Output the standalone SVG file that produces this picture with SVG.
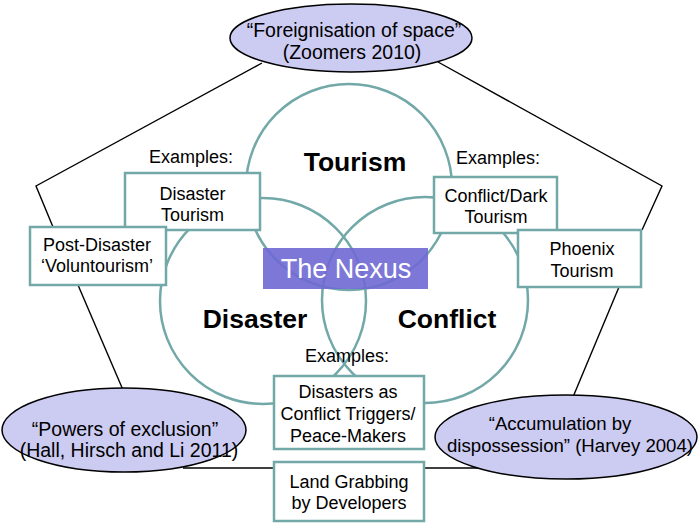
<svg xmlns="http://www.w3.org/2000/svg" width="699" height="524" viewBox="0 0 699 524">
<style>
.c{fill:none;stroke:#72a8a8;stroke-width:2.5}
.b{fill:#fff;stroke:#72a8a8;stroke-width:2.5}
.e{fill:#cccbf2;stroke:#000;stroke-width:1.5}
.ln{fill:none;stroke:#000;stroke-width:1.4}
text{font-family:"Liberation Sans",Arial,sans-serif;fill:#000;text-anchor:middle}
.t{font-size:18px}
.te{font-size:19.5px}
.ta{font-size:18.6px}
.big{font-size:26.5px;font-weight:bold}
.nx{font-size:27px;fill:#fff}
</style>
<rect width="699" height="524" fill="#fff"/>
<g id="connectors">
<polyline class="ln" points="262,63 36,186 53,227"/>
<line class="ln" x1="78" y1="285" x2="123" y2="390"/>
<line class="ln" x1="183" y1="468" x2="274" y2="468"/>
<line class="ln" x1="424" y1="468" x2="478" y2="468"/>
<line class="ln" x1="619" y1="287" x2="573" y2="397"/>
<polyline class="ln" points="642,230 662,186 438,62"/>
</g>
<g id="circles">
<circle id="tourism" class="c" cx="349" cy="187" r="103"/>
<circle id="disaster" class="c" cx="263" cy="301" r="103"/>
<circle id="conflict" class="c" cx="425" cy="300" r="103"/>
</g>
<g id="labels">
<text class="big" x="355" y="171">Tourism</text>
<text class="big" x="255" y="328">Disaster</text>
<text class="big" x="447" y="328">Conflict</text>
<text class="t" x="191" y="163">Examples:</text>
<text class="t" x="498" y="164">Examples:</text>
<text class="t" x="347" y="362">Examples:</text>
</g>
<g id="nexus">
<rect x="263" y="248" width="165" height="41" fill="#6f68d4" fill-opacity="0.9"/>
<text class="nx" x="346" y="278">The Nexus</text>
</g>
<g id="disaster-tourism">
<rect class="b" x="125" y="173" width="135" height="57"/>
<text class="t" x="192.5" y="200">Disaster</text>
<text class="t" x="192.5" y="221">Tourism</text>
</g>
<g id="post-disaster">
<rect class="b" x="30" y="227" width="136" height="58"/>
<text class="t" x="97" y="251">Post-Disaster</text>
<text class="t" x="97" y="272">‘Voluntourism’</text>
</g>
<g id="conflict-dark">
<rect class="b" x="434" y="177" width="123" height="56"/>
<text class="t" x="496" y="202">Conflict/Dark</text>
<text class="t" x="496" y="223">Tourism</text>
</g>
<g id="phoenix">
<rect class="b" x="518" y="230" width="123" height="57"/>
<text class="t" x="582" y="255">Phoenix</text>
<text class="t" x="582" y="277">Tourism</text>
</g>
<g id="disasters-triggers">
<rect class="b" x="274" y="376" width="150" height="73"/>
<text class="t" x="348" y="398">Disasters as</text>
<text class="t" x="348" y="420">Conflict Triggers/</text>
<text class="t" x="348" y="442">Peace-Makers</text>
</g>
<g id="land-grabbing">
<rect class="b" x="274" y="462" width="150" height="59"/>
<text class="t" x="349" y="488">Land Grabbing</text>
<text class="t" x="349" y="509">by Developers</text>
</g>
<g id="foreignisation">
<ellipse class="e" cx="351" cy="38" rx="121" ry="34"/>
<text class="te" x="354" y="37">“Foreignisation of space”</text>
<text class="te" x="352" y="59">(Zoomers 2010)</text>
</g>
<g id="powers">
<ellipse class="e" cx="124" cy="430" rx="122" ry="42"/>
<text class="te" x="125" y="436">“Powers of exclusion”</text>
<text class="te" x="129" y="457">(Hall, Hirsch and Li 2011)</text>
</g>
<g id="accumulation">
<ellipse class="e" cx="566" cy="437" rx="131" ry="42"/>
<text class="ta" x="560" y="430">“Accumulation by</text>
<text class="ta" x="570" y="452">dispossession” (Harvey 2004)</text>
</g>
</svg>
